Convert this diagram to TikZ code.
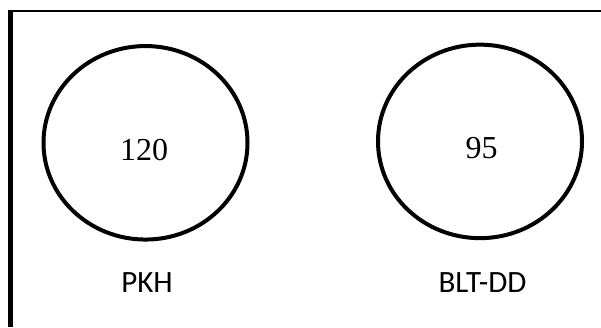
\documentclass[tikz,border=0pt]{standalone}
\usepackage{fontspec}
\usetikzlibrary{shapes.geometric}
\setmainfont{Liberation Serif}
\newfontfamily\labfont{Carlito}
\begin{document}
\begin{tikzpicture}[x=1pt,y=-1pt,
  ring/.style={draw=black,line width=4pt,ellipse,minimum width=204pt,minimum height=193.5pt,inner sep=0pt},
  num/.style={inner sep=0pt,font=\fontsize{32}{36}\selectfont},
  lab/.style={inner sep=0pt,font=\labfont\fontsize{31}{36}\selectfont},
  frame/.style={draw=black}]
\useasboundingbox (0,0) rectangle (601,327);
\draw[frame,line width=2pt] (8,11) -- (601,11);
\draw[frame,line width=4.5pt] (10.5,10) -- (10.5,327);
\node[ring] (c1) at (145.5,142.8) {};
\node[ring] (c2) at (480,141.4) {};
\node[num] (n1) at (144,150) {120};
\node[num] (n2) at (481.5,148.5) {95};
\node[lab] (l1) at (147,283) {PKH};
\node[lab] (l2) at (482.5,283) {BLT-DD};
\end{tikzpicture}
\end{document}
